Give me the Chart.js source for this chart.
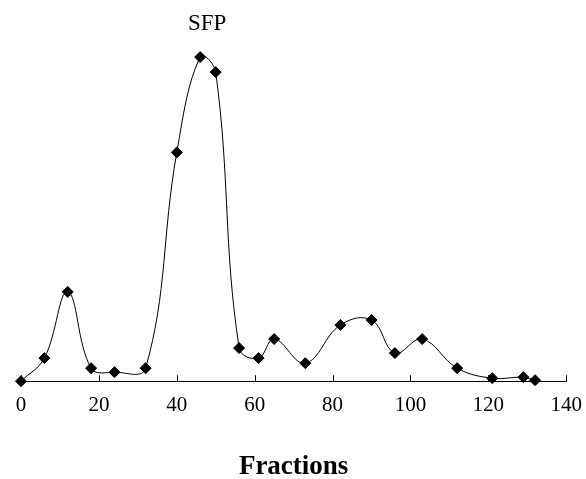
<!DOCTYPE html>
<html lang="en">
<head>
  <meta charset="UTF-8" />
  <title>Fractions</title>
  <script src="https://cdn.jsdelivr.net/npm/chart.js"></script>
  <style>
    html, body { margin: 0; padding: 0; background: #fff; }
    #wrap { width: 586px; height: 479px; position: relative; }
  </style>
</head>
<body>
  <div id="wrap"><canvas id="grafico"></canvas></div>

<script>
  // fraction number and relative elution value
  const fractions = [0, 6, 12, 18, 24, 32, 40, 46, 50, 56, 61, 65, 73, 82, 90, 96, 103, 112, 121, 129, 132];
  const values = [0, 23, 89, 13, 9, 13, 228, 323, 308, 33, 23, 42, 18, 56, 61, 28, 42, 13, 3, 4, 1];
  const xTicks = [0, 20, 40, 60, 80, 100, 120, 140];
  const peakLabel = "SFP";
  const peakFraction = 46;
  const xTitle = "Fractions";

  const serif = "'Liberation Serif', 'Times New Roman', serif";

  // tick marks pointing up into the plot, plus the peak label
  const extras = {
    id: "extras",
    afterDraw(chart) {
      const ctx = chart.ctx;
      const xs = chart.scales.x;
      const ys = chart.scales.y;
      const base = ys.getPixelForValue(0);
      ctx.save();
      ctx.strokeStyle = "#000";
      ctx.lineWidth = 1;
      xTicks.forEach(function (t) {
        const px = Math.round(xs.getPixelForValue(t)) + 0.5;
        ctx.beginPath();
        ctx.moveTo(px, base);
        ctx.lineTo(px, base - 6);
        ctx.stroke();
      });
      const i = fractions.indexOf(peakFraction);
      ctx.fillStyle = "#000";
      ctx.font = "23px " + serif;
      ctx.textAlign = "center";
      ctx.textBaseline = "middle";
      ctx.fillText(peakLabel, xs.getPixelForValue(peakFraction) + 7, ys.getPixelForValue(values[i]) - 33);
      ctx.restore();
    }
  };

  const ctx = document.getElementById("grafico").getContext("2d");

  new Chart(ctx, {
    type: "line",
    data: {
      datasets: [{
        data: fractions.map(function (f, i) { return { x: f, y: values[i] }; }),
        borderColor: "#000",
        borderWidth: 1,
        tension: 0.4,
        pointStyle: "rectRot",
        pointRadius: 5.5,
        pointBackgroundColor: "#000",
        pointBorderColor: "#000",
        clip: false
      }]
    },
    options: {
      responsive: true,
      maintainAspectRatio: false,
      animation: false,
      layout: { padding: { top: 40, left: 21, right: 0, bottom: 1 } },
      plugins: {
        legend: { display: false },
        tooltip: { enabled: false }
      },
      scales: {
        x: {
          type: "linear",
          min: 0,
          max: 140,
          afterBuildTicks: function (scale) {
            scale.ticks = xTicks.map(function (v) { return { value: v }; });
          },
          grid: { display: false },
          border: { display: true, color: "#000", width: 1 },
          ticks: {
            color: "#000",
            font: { family: serif, size: 21 },
            padding: 4,
            maxRotation: 0
          },
          title: {
            display: true,
            text: xTitle,
            color: "#000",
            font: { family: serif, size: 27, weight: "bold", lineHeight: 0.8 },
            padding: { top: 34, bottom: 0 }
          }
        },
        y: {
          display: false,
          min: 0,
          max: 340
        }
      }
    },
    plugins: [extras]
  });
</script>
</body>
</html>
